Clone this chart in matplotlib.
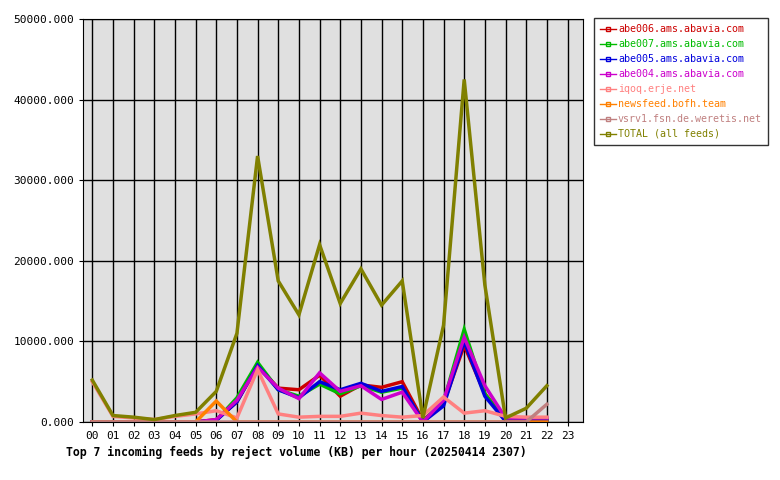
import matplotlib
matplotlib.use('Agg')
import matplotlib.pyplot as plt
import numpy as np

plt.rcParams['font.family'] = ['DejaVu Sans Mono']

hours = list(range(23))
hour_labels = [f"{h:02d}" for h in range(24)]

names = ['abe006.ams.abavia.com', 'abe007.ams.abavia.com', 'abe005.ams.abavia.com',
         'abe004.ams.abavia.com', 'iqoq.erje.net', 'newsfeed.bofh.team',
         'vsrv1.fsn.de.weretis.net', 'TOTAL (all feeds)']
colors = ['#cc0000', '#00bb00', '#0000dd', '#cc00cc', '#ff8080', '#ff8000', '#c08080', '#808000']

abe006 = [0, 0, 0, 0, 0, 0, 300, 2500, 7000, 4200, 4000, 5800, 3200, 4600, 4300, 5000, 200, 2300, 9500, 3500, 300, 300, 300]
abe007 = [0, 0, 0, 0, 0, 0, 200, 3000, 7400, 4000, 3200, 4700, 3500, 4500, 3700, 4200, 100, 2500, 11500, 3500, 200, 200, 200]
abe005 = [0, 0, 0, 0, 0, 0, 200, 2500, 7000, 4000, 3000, 5000, 4000, 4800, 3800, 4400, 0, 2000, 10000, 3200, 100, 100, 100]
abe004 = [0, 0, 0, 0, 0, 0, 300, 2700, 6800, 4200, 2900, 6100, 3800, 4500, 2800, 3700, 0, 2700, 10500, 4500, 500, 500, 500]
iqoq = [5000, 700, 500, 300, 700, 1000, 1400, 500, 6500, 1000, 600, 700, 700, 1100, 800, 600, 800, 3100, 1100, 1400, 700, 600, 600]
newsfeed = [0, 0, 0, 0, 0, 0, 2600, 0, 0, 0, 0, 0, 0, 0, 0, 0, 0, 0, 0, 0, 0, 0, 0]
vsrv1 = [0] * 21 + [0, 2200]
total = [5200, 800, 600, 300, 800, 1200, 3800, 11000, 33000, 17500, 13300, 22000, 14700, 19000,
         14500, 17500, 500, 12000, 42500, 17000, 500, 1700, 4500]
series = [abe006, abe007, abe005, abe004, iqoq, newsfeed, vsrv1, total]

fig = plt.figure(figsize=(7.8, 4.8), dpi=100, facecolor='white')
ax = fig.add_axes([83 / 780, 58 / 480, 500 / 780, 403 / 480])
ax.set_facecolor('#e0e0e0')

for name, col, ys in zip(names, colors, series):
    ax.plot(hours, ys, color=col, linewidth=2.5, label=name, solid_joinstyle='miter')

ax.set_xlim(-0.45, 23.75)
ax.set_ylim(0, 50000)
ax.set_xticks(range(24))
ax.set_xticklabels(hour_labels, fontsize=8)
ax.set_yticks(np.arange(0, 50001, 10000))
ax.set_yticklabels([f"{v:.3f}" for v in np.arange(0, 50001, 10000)], fontsize=8)
ax.grid(color='black', linewidth=1)
ax.set_axisbelow(True)
ax.tick_params(length=3)
for s in ax.spines.values():
    s.set_color('black')

fig.text(66 / 780, 1 - 452 / 480, 'Top 7 incoming feeds by reject volume (KB) per hour (20250414 2307)',
         fontsize=8.3, fontweight='bold', va='center')

handles = [plt.Line2D([], [], color=c, linewidth=1, marker='s', markersize=2.5,
                      markerfacecolor='none') for c in colors]
leg = fig.legend(handles, names, loc='upper left', bbox_to_anchor=(594 / 780, 1 - 18 / 480),
                 fontsize=7.2, frameon=True, fancybox=False, edgecolor='black', handlelength=1.6,
                 handletextpad=0.2, borderpad=0.6, labelspacing=0.5, borderaxespad=0)
leg.get_frame().set_linewidth(1)
for t, c in zip(leg.get_texts(), colors):
    t.set_color(c)

fig.savefig('out.png', dpi=100, facecolor='white')
